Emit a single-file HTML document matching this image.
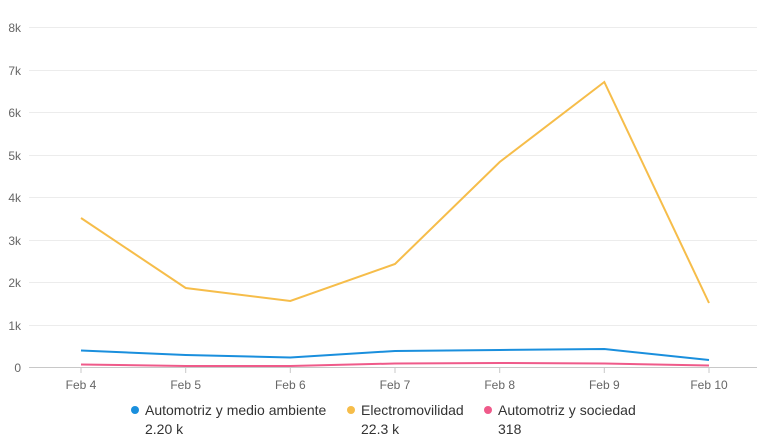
<!DOCTYPE html>
<html><head><meta charset="utf-8"><style>
html,body{margin:0;padding:0;background:#fff;}
svg{display:block;font-family:"Liberation Sans",Arial,sans-serif;}
</style></head><body>
<svg width="757" height="442" viewBox="0 0 757 442">
<g stroke="#ececec" stroke-width="1">
<line x1="29" x2="757" y1="27.5" y2="27.5"/>
<line x1="29" x2="757" y1="70.5" y2="70.5"/>
<line x1="29" x2="757" y1="112.5" y2="112.5"/>
<line x1="29" x2="757" y1="155.5" y2="155.5"/>
<line x1="29" x2="757" y1="197.5" y2="197.5"/>
<line x1="29" x2="757" y1="240.5" y2="240.5"/>
<line x1="29" x2="757" y1="282.5" y2="282.5"/>
<line x1="29" x2="757" y1="325.5" y2="325.5"/>
</g>
<line x1="29" x2="757" y1="367.5" y2="367.5" stroke="#c8c8c8"/>
<g stroke="#c8c8c8">
<line x1="81" x2="81" y1="367" y2="373"/><line x1="185.7" x2="185.7" y1="367" y2="373"/>
<line x1="290.3" x2="290.3" y1="367" y2="373"/><line x1="395" x2="395" y1="367" y2="373"/>
<line x1="499.7" x2="499.7" y1="367" y2="373"/><line x1="604.3" x2="604.3" y1="367" y2="373"/>
<line x1="709" x2="709" y1="367" y2="373"/>
</g>
<g font-size="12" fill="#666" text-anchor="end">
<text x="21" y="32">8k</text><text x="21" y="75">7k</text><text x="21" y="117">6k</text>
<text x="21" y="160">5k</text><text x="21" y="202">4k</text><text x="21" y="245">3k</text>
<text x="21" y="287">2k</text><text x="21" y="330">1k</text><text x="21" y="372">0</text>
</g>
<g font-size="12" fill="#666" text-anchor="middle">
<text x="81" y="389">Feb 4</text><text x="185.7" y="389">Feb 5</text><text x="290.3" y="389">Feb 6</text>
<text x="395" y="389">Feb 7</text><text x="499.7" y="389">Feb 8</text><text x="604.3" y="389">Feb 9</text>
<text x="709" y="389">Feb 10</text>
</g>
<polyline fill="none" stroke="#f6bd4a" stroke-width="2" points="81,218 185.7,288 290.3,301 395,264 499.7,162 604.3,82 709,303"/>
<polyline fill="none" stroke="#1a8fdd" stroke-width="2" points="81,350.5 185.7,355 290.3,357.5 395,351 499.7,350 604.3,349 709,360"/>
<polyline fill="none" stroke="#ef5a8a" stroke-width="2" points="81,364.5 185.7,366 290.3,366 395,363.5 499.7,363 604.3,363.5 709,365.5"/>
<g font-size="14" fill="#333">
<circle cx="135" cy="410" r="4" fill="#1a8fdd"/><text x="145" y="415">Automotriz y medio ambiente</text><text x="145" y="434">2.20 k</text>
<circle cx="351" cy="410" r="4" fill="#f6bd4a"/><text x="361" y="415">Electromovilidad</text><text x="361" y="434">22.3 k</text>
<circle cx="488" cy="410" r="4" fill="#ef5a8a"/><text x="498" y="415">Automotriz y sociedad</text><text x="498" y="434">318</text>
</g>
</svg>
</body></html>
